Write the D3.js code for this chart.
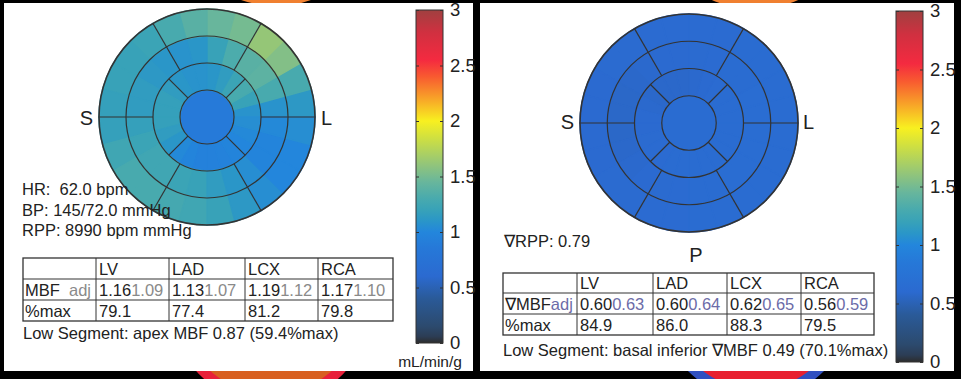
<!DOCTYPE html>
<html>
<head>
<meta charset="utf-8">
<script src="https://cdn.jsdelivr.net/npm/d3@7"></script>
<style>
body { margin: 0; background: #000; }
svg { display: block; font-family: "Liberation Sans", Arial, sans-serif; }
text { white-space: pre; }
</style>
</head>
<body>
<div id="canvas"></div>
<script>
"use strict"
let svgWidth = 961;
let svgHeight = 379;

// polar map values, 24 sectors of 15 deg each, counter-clockwise from L (3 o'clock)
let leftApex = 0.87;
let leftApical = [1.08,1.20,1.30,1.22,1.15,1.10,1.08,1.08,1.10,1.15,1.18,1.18,1.18,1.15,1.10,1.02,0.98,0.95,0.95,0.96,0.98,1.00,1.02,1.05];
let leftMid    = [1.08,1.30,1.40,1.38,1.32,1.20,1.10,1.08,1.10,1.12,1.15,1.15,1.18,1.22,1.25,1.25,1.22,1.20,1.15,1.10,1.05,0.98,0.98,1.02];
let leftBasal  = [1.12,1.30,1.55,1.62,1.50,1.45,1.38,1.30,1.22,1.20,1.20,1.18,1.18,1.25,1.30,1.30,1.28,1.25,1.20,1.12,1.05,1.00,1.00,1.05];

let rightApex = 0.64;
let rightApical = [0.64,0.64,0.63,0.62,0.60,0.59,0.58,0.58,0.58,0.58,0.59,0.60,0.60,0.61,0.62,0.62,0.63,0.63,0.64,0.64,0.64,0.64,0.64,0.64];
let rightMid    = [0.65,0.65,0.64,0.64,0.62,0.61,0.60,0.60,0.59,0.58,0.57,0.57,0.57,0.58,0.59,0.60,0.61,0.62,0.63,0.64,0.65,0.65,0.65,0.65];
let rightBasal  = [0.64,0.64,0.63,0.63,0.62,0.62,0.62,0.62,0.61,0.61,0.60,0.60,0.60,0.60,0.61,0.61,0.62,0.62,0.63,0.63,0.64,0.64,0.64,0.64];

// tables
let tableCols = ["LV", "LAD", "LCX", "RCA"];
let leftMbf = ["1.16", "1.13", "1.19", "1.17"];
let leftMbfAdj = ["1.09", "1.07", "1.12", "1.10"];
let leftPctMax = ["79.1", "77.4", "81.2", "79.8"];
let rightMbf = ["0.60", "0.60", "0.62", "0.56"];
let rightMbfAdj = ["0.63", "0.64", "0.65", "0.59"];
let rightPctMax = ["84.9", "86.0", "88.3", "79.5"];

let leftInfo = ["HR:  62.0 bpm", "BP: 145/72.0 mmHg", "RPP: 8990 bpm mmHg"];
let rightInfo = ["\u2207RPP: 0.79"];
let leftLow = "Low Segment: apex MBF 0.87 (59.4%max)";
let rightLow = "Low Segment: basal inferior \u2207MBF 0.49 (70.1%max)";

let barTicks = [0, 0.5, 1, 1.5, 2, 2.5, 3];

// colormap
let cmapStops = [0, 0.06, 0.15, 0.4, 0.6, 0.85, 1.0, 1.1, 1.2, 1.3, 1.45, 1.6, 1.85, 2.0, 2.2, 2.4, 2.55, 2.8, 3.0];
let cmapColors = ["#2c2c2c", "#2c3d55", "#2c4a6e", "#2a5a98", "#2b6ad0", "#2678d8", "#2386dc", "#2a96c8",
    "#38a2b8", "#48aaae", "#68b69c", "#90c47c", "#d0e040", "#f8f020", "#f8a428", "#f85a30", "#f42a40", "#d03040", "#a04040"];
let color = d3.scaleLinear().domain(cmapStops).range(cmapColors).clamp(true);

let svg = d3.select("#canvas")
    .append("svg")
    .attr("width", svgWidth)
    .attr("height", svgHeight);

svg.append("rect")
    .attr("width", svgWidth)
    .attr("height", svgHeight)
    .attr("fill", "#000");

// bits of neighbouring pictures peeking into the black frame
let blobs = [
    {cx: 276, cy: -99, r: 100, fill: "#f0a040", stroke: "#f08030"},
    {cx: 755, cy: -99, r: 103, fill: "#f0a040", stroke: "#f08030"},
    {cx: 271, cy: 302, r: 97, fill: "#d86020", stroke: "#e8203a"},
    {cx: 756, cy: 302, r: 92, fill: "#e82030", stroke: "#3050c0"}
];
svg.selectAll("circle.blob")
    .data(blobs)
    .join("circle")
    .attr("class", "blob")
    .attr("cx", d => d.cx)
    .attr("cy", d => d.cy)
    .attr("r", d => d.r)
    .attr("fill", d => d.fill)
    .attr("stroke", d => d.stroke)
    .attr("stroke-width", 10);

// white panels
svg.append("rect").attr("x", 4).attr("y", 3).attr("width", 469).attr("height", 368).attr("fill", "#fff");
svg.append("rect").attr("x", 480).attr("y", 3).attr("width", 474).attr("height", 368).attr("fill", "#fff");

let defs = svg.append("defs");

function drawPolar(cx, cy, rOuter, apex, apical, mid, basal, labels) {
    let g = svg.append("g").attr("transform", "translate(" + cx + "," + cy + ")");
    let rScale = d3.scaleLinear().domain([0, 4]).range([0, rOuter]);
    let aScale = d3.scaleLinear().domain([0, 24]).range([Math.PI / 2, -3 * Math.PI / 2]);
    let arc = d3.arc();
    let rings = [apical, mid, basal];

    g.append("circle")
        .attr("r", rScale(1))
        .attr("fill", color(apex));

    rings.forEach(function(vals, k) {
        g.selectAll("path.ring" + k)
            .data(vals)
            .join("path")
            .attr("class", "ring" + k)
            .attr("d", function(v, i) {
                return arc({innerRadius: rScale(k + 1), outerRadius: rScale(k + 2),
                    startAngle: aScale(i + 1), endAngle: aScale(i)});
            })
            .attr("fill", v => color(v))
            .attr("stroke", v => color(v))
            .attr("stroke-width", 1.4);
    });

    for (let k = 1; k <= 4; k++) {
        g.append("circle")
            .attr("r", rScale(k))
            .attr("fill", "none")
            .attr("stroke", "#333")
            .attr("stroke-width", k == 4 ? 1.6 : 1.2);
    }

    let spokes = [];
    [45, 135, 225, 315].forEach(a => spokes.push({a: a, r0: 1, r1: 2}));
    [0, 60, 120, 180, 240, 300].forEach(a => spokes.push({a: a, r0: 2, r1: 4}));
    g.selectAll("line.spoke")
        .data(spokes)
        .join("line")
        .attr("class", "spoke")
        .attr("x1", d => rScale(d.r0) * Math.cos(d.a * Math.PI / 180))
        .attr("y1", d => -rScale(d.r0) * Math.sin(d.a * Math.PI / 180))
        .attr("x2", d => rScale(d.r1) * Math.cos(d.a * Math.PI / 180))
        .attr("y2", d => -rScale(d.r1) * Math.sin(d.a * Math.PI / 180))
        .attr("stroke", "#333")
        .attr("stroke-width", 1.2);

    labels.forEach(function(l) {
        g.append("text")
            .attr("x", l.x)
            .attr("y", l.y)
            .attr("text-anchor", l.anchor)
            .attr("font-size", 20)
            .attr("fill", "#222")
            .text(l.t);
    });
}

drawPolar(207, 117, 108, leftApex, leftApical, leftMid, leftBasal,
    [{t: "S", x: -114, y: 8, anchor: "end"}, {t: "L", x: 114, y: 8, anchor: "start"}]);
drawPolar(689, 123, 109, rightApex, rightApical, rightMid, rightBasal,
    [{t: "S", x: -115, y: 6, anchor: "end"}, {t: "L", x: 114, y: 6, anchor: "start"},
     {t: "P", x: 7, y: 139, anchor: "middle"}]);

// info text
leftInfo.forEach(function(t, i) {
    svg.append("text")
        .attr("x", 22)
        .attr("y", 195 + i * 20.5)
        .attr("font-size", 16.5)
        .attr("fill", "#222")
        .text(t);
});
svg.append("text")
    .attr("x", 504)
    .attr("y", 247)
    .attr("font-size", 16.5)
    .attr("fill", "#222")
    .text(rightInfo[0]);

function drawTable(cols, rows, rowLabels, mbf, mbfAdj, pct, adjColor) {
    let g = svg.append("g");
    g.append("rect")
        .attr("x", cols[0])
        .attr("y", rows[0])
        .attr("width", cols[cols.length - 1] - cols[0])
        .attr("height", rows[rows.length - 1] - rows[0])
        .attr("fill", "#fff")
        .attr("stroke", "#333")
        .attr("stroke-width", 1.3);
    for (let i = 1; i < cols.length - 1; i++) {
        g.append("line")
            .attr("x1", cols[i]).attr("x2", cols[i])
            .attr("y1", rows[0]).attr("y2", rows[rows.length - 1])
            .attr("stroke", "#333");
    }
    for (let j = 1; j < rows.length - 1; j++) {
        g.append("line")
            .attr("x1", cols[0]).attr("x2", cols[cols.length - 1])
            .attr("y1", rows[j]).attr("y2", rows[j])
            .attr("stroke", "#333");
    }
    let fs = 16.5;
    for (let i = 0; i < tableCols.length; i++) {
        let x = cols[i + 1] + 3;
        g.append("text").attr("x", x).attr("y", rows[1] - 4).attr("font-size", fs).attr("fill", "#222")
            .text(tableCols[i]);
        let t = g.append("text").attr("x", x).attr("y", rows[2] - 4).attr("font-size", fs);
        t.append("tspan").attr("fill", "#222").text(mbf[i]);
        t.append("tspan").attr("fill", adjColor).text(mbfAdj[i]);
        g.append("text").attr("x", x).attr("y", rows[3] - 4).attr("font-size", fs).attr("fill", "#222")
            .text(pct[i]);
    }
    let lab = g.append("text").attr("x", cols[0] + 2).attr("y", rows[2] - 4).attr("font-size", fs);
    lab.append("tspan").attr("fill", "#222").text(rowLabels[0]);
    lab.append("tspan").attr("fill", adjColor).text(rowLabels[1]);
    g.append("text").attr("x", cols[0] + 2).attr("y", rows[3] - 4).attr("font-size", fs).attr("fill", "#222")
        .text("%max");
}

drawTable([23, 96, 169, 245, 318, 393], [258, 279, 300, 321], ["MBF  ", "adj"],
    leftMbf, leftMbfAdj, leftPctMax, "#8a8a8a");
drawTable([503, 577, 653, 727, 801, 874], [273, 293, 314, 335], ["\u2207MBF", "adj"],
    rightMbf, rightMbfAdj, rightPctMax, "#6c6ca8");

svg.append("text").attr("x", 23).attr("y", 339).attr("font-size", 16.5).attr("fill", "#222").text(leftLow);
svg.append("text").attr("x", 503).attr("y", 356).attr("font-size", 16.5).attr("fill", "#222").text(rightLow);

// colorbars
let grad = defs.append("linearGradient")
    .attr("id", "cbar")
    .attr("x1", 0).attr("y1", 1).attr("x2", 0).attr("y2", 0);
grad.selectAll("stop")
    .data(cmapStops)
    .join("stop")
    .attr("offset", d => d / 3)
    .attr("stop-color", d => color(d));

function drawBar(x, top, bottom, unit) {
    let w = 27;
    let g = svg.append("g");
    let yScale = d3.scaleLinear().domain([0, 3]).range([bottom, top]);
    g.append("rect")
        .attr("x", x).attr("y", top)
        .attr("width", w).attr("height", bottom - top)
        .attr("fill", "url(#cbar)")
        .attr("stroke", "#333")
        .attr("stroke-width", 1);

    let axR = g.append("g")
        .attr("transform", "translate(" + (x + w) + ",0)")
        .call(d3.axisRight(yScale).tickValues(barTicks).tickSize(-3).tickPadding(7).tickFormat(d3.format("")));
    axR.select(".domain").remove();
    axR.selectAll("line").attr("stroke", "#333");
    axR.selectAll("text").attr("font-size", 18.5).attr("fill", "#222")
        .attr("font-family", "'Liberation Sans', Arial, sans-serif");

    let axL = g.append("g")
        .attr("transform", "translate(" + x + ",0)")
        .call(d3.axisLeft(yScale).tickValues(barTicks).tickSize(-3).tickFormat(""));
    axL.select(".domain").remove();
    axL.selectAll("line").attr("stroke", "#333");

    if (unit) {
        g.append("text")
            .attr("x", x + 14)
            .attr("y", 367)
            .attr("text-anchor", "middle")
            .attr("font-size", 15.5)
            .attr("fill", "#222")
            .text(unit);
    }
}

drawBar(416, 10, 343, "mL/min/g");
drawBar(896, 11, 362, null);
</script>
</body>
</html>
